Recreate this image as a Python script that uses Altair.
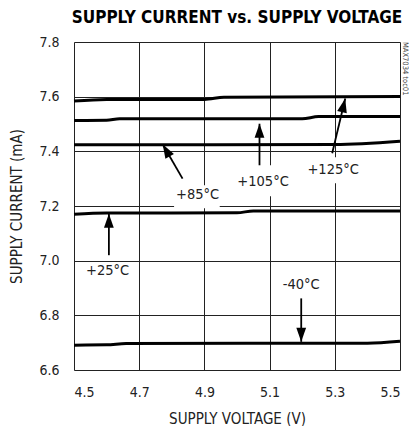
import math
import altair as alt
import pandas as pd

# ---- data ----
series = ["+125°C", "+105°C", "+85°C", "+25°C", "-40°C"]
voltage = {
    "+125°C": [4.5, 4.6, 4.9, 4.96, 5.5],
    "+105°C": [4.5, 4.6, 4.64, 5.2, 5.25, 5.5],
    "+85°C": [4.5, 5.3, 5.5],
    "+25°C": [4.5, 4.6, 5.0, 5.05, 5.5],
    "-40°C": [4.5, 4.6, 4.66, 5.4, 5.5],
}
current = {
    "+125°C": [7.584, 7.590, 7.590, 7.598, 7.601],
    "+105°C": [7.513, 7.514, 7.519, 7.519, 7.527, 7.527],
    "+85°C": [7.424, 7.425, 7.437],
    "+25°C": [7.170, 7.174, 7.175, 7.182, 7.182],
    "-40°C": [6.691, 6.692, 6.697, 6.698, 6.705],
}

# annotation labels (position in data units)
label_text = ["+125°C", "+105°C", "+85°C", "+25°C", "-40°C"]
label_v = [5.295, 5.080, 4.879, 4.603, 5.197]
label_i = [7.331, 7.287, 7.241, 6.962, 6.911]

# arrows: tail -> tip (data units)
tail_v = [5.292, 5.069, 4.833, 4.607, 5.197]
tail_i = [7.393, 7.349, 7.300, 7.020, 6.862]
tip_v = [5.332, 5.069, 4.772, 4.607, 5.197]
tip_i = [7.593, 7.501, 7.426, 7.172, 6.703]

# white boxes behind labels (data units)
box_v1 = [5.210, 4.996, 4.807, 4.532]
box_v2 = [5.381, 5.164, 4.947, 4.676]
box_i1 = [7.283, 7.236, 7.192, 6.921]
box_i2 = [7.378, 7.349, 7.276, 6.995]

x_ticks = [4.5, 4.7, 4.9, 5.1, 5.3, 5.5]
y_ticks = [6.6, 6.8, 7.0, 7.2, 7.4, 7.6, 7.8]
x_domain = [4.5, 5.5]
y_domain = [6.6, 7.8]

W, H = 326, 328
COND = "DejaVu Sans Condensed, Liberation Sans, sans-serif"
TXT = "#222222"

rows = []
for s in series:
    for v, c in zip(voltage[s], current[s]):
        rows.append({"series": s, "v": v, "i": c})
curves_df = pd.DataFrame(rows)

labels_df = pd.DataFrame({"t": label_text, "v": label_v, "i": label_i})

ang = []
for a, b, c, d in zip(tail_v, tail_i, tip_v, tip_i):
    dx = (c - a) * W / (x_domain[1] - x_domain[0])
    dy = -(d - b) * H / (y_domain[1] - y_domain[0])
    ang.append(math.degrees(math.atan2(dx, -dy)) % 360)
arrows_df = pd.DataFrame({"v": tail_v, "i": tail_i, "v2": tip_v, "i2": tip_i, "ang": ang})
boxes_df = pd.DataFrame({"v": box_v1, "v2": box_v2, "i": box_i1, "i2": box_i2})
toc_df = pd.DataFrame({"t": ["MAX7034 toc01"], "v": [5.514], "i": [7.8]})

xs = alt.Scale(domain=x_domain, nice=False, zero=False)
ys = alt.Scale(domain=y_domain, nice=False, zero=False)

x_axis = alt.Axis(
    values=x_ticks, format=".1f", title="SUPPLY VOLTAGE (V)", grid=True,
    gridColor="#222222", gridWidth=1, domain=False, ticks=False, tickSize=0,
    labelPadding=15, labelFont=COND, labelFontSize=14, labelColor=TXT,
    titleFont=COND, titleFontSize=15, titleFontWeight="normal", titleColor=TXT,
    titleX=W / 2, titleY=53, titleBaseline="alphabetic",
)
y_axis = alt.Axis(
    values=y_ticks, format=".1f", title="SUPPLY CURRENT (mA)", grid=True,
    gridColor="#222222", gridWidth=1, domain=False, ticks=False, tickSize=0,
    labelPadding=15, labelFont=COND, labelFontSize=14, labelColor=TXT,
    titleFont=COND, titleFontSize=15, titleFontWeight="normal", titleColor=TXT,
    titleX=-53, titleY=H / 2, titleAngle=270, titleBaseline="alphabetic",
)

base_curves = alt.Chart(curves_df).mark_line(color="black", strokeWidth=3, interpolate="monotone").encode(
    x=alt.X("v:Q", scale=xs, axis=x_axis),
    y=alt.Y("i:Q", scale=ys, axis=y_axis),
    detail="series:N",
)

boxes = alt.Chart(boxes_df).mark_rect(color="white").encode(
    x=alt.X("v:Q", scale=xs), x2="v2", y=alt.Y("i:Q", scale=ys), y2="i2"
)

shafts = alt.Chart(arrows_df).mark_rule(color="black", strokeWidth=1.8).encode(
    x=alt.X("v:Q", scale=xs), x2="v2", y=alt.Y("i:Q", scale=ys), y2="i2"
)

heads = alt.Chart(arrows_df).mark_point(
    shape="M0,0L0.7,2L-0.7,2Z", filled=True, color="black", opacity=1, size=196, strokeWidth=0
).encode(
    x=alt.X("v2:Q", scale=xs), y=alt.Y("i2:Q", scale=ys),
    angle=alt.Angle("ang:Q", scale=None),
)

labels = alt.Chart(labels_df).mark_text(
    font=COND, fontSize=14.5, color=TXT, align="center", baseline="middle"
).encode(x=alt.X("v:Q", scale=xs), y=alt.Y("i:Q", scale=ys), text="t:N")

toc = alt.Chart(toc_df).mark_text(
    font=COND, fontSize=7.5, color="#444444", angle=90, align="left", baseline="middle"
).encode(x=alt.X("v:Q", scale=xs), y=alt.Y("i:Q", scale=ys), text="t:N")

chart = alt.layer(base_curves, boxes, shafts, heads, labels, toc).properties(
    width=W, height=H,
    title=alt.TitleParams(
        "SUPPLY CURRENT vs. SUPPLY VOLTAGE", font=COND, fontSize=17,
        fontWeight="bold", color="black", anchor="middle", frame="group",
        baseline="alphabetic", offset=0, dy=5,
    ),
    autosize=alt.AutoSizeParams(type="none"),
    padding={"left": 66, "top": 34, "right": 9, "bottom": 56},
).configure_view(stroke="black", strokeWidth=3).configure(background="white")

chart.save("out.html", embed_options={"renderer": "svg", "actions": False})
